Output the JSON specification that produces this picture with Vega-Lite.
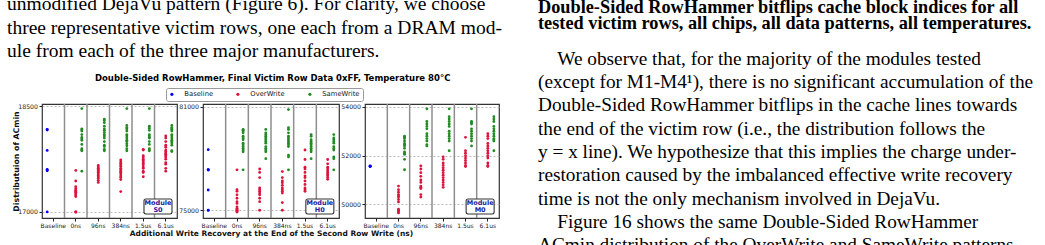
{
"$schema":"https://vega.github.io/schema/vega-lite/v6.json",
"padding":{"left":7,"top":-7,"right":0,"bottom":0},
"background":"white",
"config":{
 "view":{"stroke":"#333","strokeWidth":1.2},
 "font":"DejaVu Sans",
 "axis":{"labelFont":"DejaVu Sans","labelColor":"#222","tickColor":"#222","tickSize":3,"domain":false,"titleFont":"DejaVu Sans","titleFontWeight":"bold","titleColor":"#111"},
 "axisX":{"labelAlign":"center","labelBaseline":"top","labelAngle":0},
 "legend":{"orient":"none","legendX":124,"legendY":88,"direction":"horizontal","labelFont":"DejaVu Sans","labelFontSize":6.8,"labelColor":"#222","symbolSize":10,"symbolType":"circle","symbolStrokeWidth":0,"columnPadding":21,"labelOffset":9,"padding":2.5,"strokeColor":"#999","cornerRadius":2,"fillColor":"white"}
},
"datasets":{
"left":[{"i":1,"t":"unmodified DejaVu pattern (Figure 6). For clarity, we choose"},{"i":2,"t":"three representative victim rows, one each from a DRAM mod-"},{"i":3,"t":"ule from each of the three major manufacturers."}],
"rbold":[{"i":1,"t":"Double-Sided RowHammer bitflips cache block indices for all"},{"i":2,"t":"tested victim rows, all chips, all data patterns, all temperatures."}],
"rreg":[{"i":1,"t":"\u200b\u2003We observe that, for the majority of the modules tested"},{"i":2,"t":"(except for M1-M4¹), there is no significant accumulation of the"},{"i":3,"t":"Double-Sided RowHammer bitflips in the cache lines towards"},{"i":4,"t":"the end of the victim row (i.e., the distribution follows the"},{"i":5,"t":"y = x line). We hypothesize that this implies the charge under-"},{"i":6,"t":"restoration caused by the imbalanced effective write recovery"},{"i":7,"t":"time is not the only mechanism involved in DejaVu."},{"i":8,"t":"\u200b\u2003Figure 16 shows the same Double-Sided RowHammer"},{"i":9,"t":"ACmin distribution of the OverWrite and SameWrite patterns"}],
"cats":[{"c":"0ns"},{"c":"96ns"},{"c":"384ns"},{"c":"1.5us"},{"c":"6.1us"}],
"pts":[
{"m":"S0","c":"Baseline","s":"Baseline","v":18175},{"m":"S0","c":"Baseline","s":"Baseline","v":18165},{"m":"S0","c":"Baseline","s":"Baseline","v":17875},{"m":"S0","c":"Baseline","s":"Baseline","v":17605},{"m":"S0","c":"Baseline","s":"Baseline","v":17595},{"m":"S0","c":"Baseline","s":"Baseline","v":17585},{"m":"S0","c":"Baseline","s":"Baseline","v":17000},
{"m":"S0","c":"0ns","s":"OverWrite","v":17590},{"m":"S0","c":"0ns","s":"OverWrite","v":17440},{"m":"S0","c":"0ns","s":"OverWrite","v":17360},{"m":"S0","c":"0ns","s":"OverWrite","v":17330},{"m":"S0","c":"0ns","s":"OverWrite","v":17310},{"m":"S0","c":"0ns","s":"OverWrite","v":17290},{"m":"S0","c":"0ns","s":"OverWrite","v":17280},{"m":"S0","c":"0ns","s":"OverWrite","v":17260},{"m":"S0","c":"0ns","s":"OverWrite","v":17240},{"m":"S0","c":"0ns","s":"OverWrite","v":17220},{"m":"S0","c":"0ns","s":"OverWrite","v":17005},{"m":"S0","c":"0ns","s":"OverWrite","v":16995},
{"m":"S0","c":"0ns","s":"SameWrite","v":18470},{"m":"S0","c":"0ns","s":"SameWrite","v":18180},{"m":"S0","c":"0ns","s":"SameWrite","v":18170},{"m":"S0","c":"0ns","s":"SameWrite","v":18150},{"m":"S0","c":"0ns","s":"SameWrite","v":18100},{"m":"S0","c":"0ns","s":"SameWrite","v":18060},{"m":"S0","c":"0ns","s":"SameWrite","v":18040},{"m":"S0","c":"0ns","s":"SameWrite","v":18020},{"m":"S0","c":"0ns","s":"SameWrite","v":17960},{"m":"S0","c":"0ns","s":"SameWrite","v":17900},{"m":"S0","c":"0ns","s":"SameWrite","v":17880},{"m":"S0","c":"0ns","s":"SameWrite","v":17870},{"m":"S0","c":"0ns","s":"SameWrite","v":17580},
{"m":"S0","c":"96ns","s":"OverWrite","v":17660},{"m":"S0","c":"96ns","s":"OverWrite","v":17640},{"m":"S0","c":"96ns","s":"OverWrite","v":17620},{"m":"S0","c":"96ns","s":"OverWrite","v":17600},{"m":"S0","c":"96ns","s":"OverWrite","v":17590},{"m":"S0","c":"96ns","s":"OverWrite","v":17570},{"m":"S0","c":"96ns","s":"OverWrite","v":17560},{"m":"S0","c":"96ns","s":"OverWrite","v":17540},{"m":"S0","c":"96ns","s":"OverWrite","v":17520},{"m":"S0","c":"96ns","s":"OverWrite","v":17500},{"m":"S0","c":"96ns","s":"OverWrite","v":17480},{"m":"S0","c":"96ns","s":"OverWrite","v":17450},{"m":"S0","c":"96ns","s":"OverWrite","v":17420},
{"m":"S0","c":"96ns","s":"SameWrite","v":18320},{"m":"S0","c":"96ns","s":"SameWrite","v":18300},{"m":"S0","c":"96ns","s":"SameWrite","v":18270},{"m":"S0","c":"96ns","s":"SameWrite","v":18220},{"m":"S0","c":"96ns","s":"SameWrite","v":18180},{"m":"S0","c":"96ns","s":"SameWrite","v":18160},{"m":"S0","c":"96ns","s":"SameWrite","v":18130},{"m":"S0","c":"96ns","s":"SameWrite","v":18100},{"m":"S0","c":"96ns","s":"SameWrite","v":18080},{"m":"S0","c":"96ns","s":"SameWrite","v":18050},{"m":"S0","c":"96ns","s":"SameWrite","v":18000},{"m":"S0","c":"96ns","s":"SameWrite","v":17950},{"m":"S0","c":"96ns","s":"SameWrite","v":17930},{"m":"S0","c":"96ns","s":"SameWrite","v":17890},{"m":"S0","c":"96ns","s":"SameWrite","v":17870},
{"m":"S0","c":"384ns","s":"OverWrite","v":17740},{"m":"S0","c":"384ns","s":"OverWrite","v":17710},{"m":"S0","c":"384ns","s":"OverWrite","v":17690},{"m":"S0","c":"384ns","s":"OverWrite","v":17670},{"m":"S0","c":"384ns","s":"OverWrite","v":17650},{"m":"S0","c":"384ns","s":"OverWrite","v":17620},{"m":"S0","c":"384ns","s":"OverWrite","v":17600},{"m":"S0","c":"384ns","s":"OverWrite","v":17580},{"m":"S0","c":"384ns","s":"OverWrite","v":17560},{"m":"S0","c":"384ns","s":"OverWrite","v":17540},{"m":"S0","c":"384ns","s":"OverWrite","v":17510},{"m":"S0","c":"384ns","s":"OverWrite","v":17490},{"m":"S0","c":"384ns","s":"OverWrite","v":17460},{"m":"S0","c":"384ns","s":"OverWrite","v":17290},
{"m":"S0","c":"384ns","s":"SameWrite","v":18470},{"m":"S0","c":"384ns","s":"SameWrite","v":18230},{"m":"S0","c":"384ns","s":"SameWrite","v":18200},{"m":"S0","c":"384ns","s":"SameWrite","v":18180},{"m":"S0","c":"384ns","s":"SameWrite","v":18150},{"m":"S0","c":"384ns","s":"SameWrite","v":18100},{"m":"S0","c":"384ns","s":"SameWrite","v":18080},{"m":"S0","c":"384ns","s":"SameWrite","v":18050},{"m":"S0","c":"384ns","s":"SameWrite","v":18020},{"m":"S0","c":"384ns","s":"SameWrite","v":18000},{"m":"S0","c":"384ns","s":"SameWrite","v":17970},{"m":"S0","c":"384ns","s":"SameWrite","v":17940},{"m":"S0","c":"384ns","s":"SameWrite","v":17900},{"m":"S0","c":"384ns","s":"SameWrite","v":17870},
{"m":"S0","c":"1.5us","s":"OverWrite","v":17890},{"m":"S0","c":"1.5us","s":"OverWrite","v":17880},{"m":"S0","c":"1.5us","s":"OverWrite","v":17800},{"m":"S0","c":"1.5us","s":"OverWrite","v":17780},{"m":"S0","c":"1.5us","s":"OverWrite","v":17750},{"m":"S0","c":"1.5us","s":"OverWrite","v":17730},{"m":"S0","c":"1.5us","s":"OverWrite","v":17710},{"m":"S0","c":"1.5us","s":"OverWrite","v":17690},{"m":"S0","c":"1.5us","s":"OverWrite","v":17670},{"m":"S0","c":"1.5us","s":"OverWrite","v":17640},{"m":"S0","c":"1.5us","s":"OverWrite","v":17620},{"m":"S0","c":"1.5us","s":"OverWrite","v":17580},{"m":"S0","c":"1.5us","s":"OverWrite","v":17560},{"m":"S0","c":"1.5us","s":"OverWrite","v":17500},
{"m":"S0","c":"1.5us","s":"SameWrite","v":18470},{"m":"S0","c":"1.5us","s":"SameWrite","v":18220},{"m":"S0","c":"1.5us","s":"SameWrite","v":18190},{"m":"S0","c":"1.5us","s":"SameWrite","v":18160},{"m":"S0","c":"1.5us","s":"SameWrite","v":18100},{"m":"S0","c":"1.5us","s":"SameWrite","v":18080},{"m":"S0","c":"1.5us","s":"SameWrite","v":18060},{"m":"S0","c":"1.5us","s":"SameWrite","v":18050},{"m":"S0","c":"1.5us","s":"SameWrite","v":18000},{"m":"S0","c":"1.5us","s":"SameWrite","v":17960},{"m":"S0","c":"1.5us","s":"SameWrite","v":17900},{"m":"S0","c":"1.5us","s":"SameWrite","v":17880},{"m":"S0","c":"1.5us","s":"SameWrite","v":17870},
{"m":"S0","c":"6.1us","s":"OverWrite","v":18080},{"m":"S0","c":"6.1us","s":"OverWrite","v":18050},{"m":"S0","c":"6.1us","s":"OverWrite","v":18000},{"m":"S0","c":"6.1us","s":"OverWrite","v":17950},{"m":"S0","c":"6.1us","s":"OverWrite","v":17920},{"m":"S0","c":"6.1us","s":"OverWrite","v":17880},{"m":"S0","c":"6.1us","s":"OverWrite","v":17860},{"m":"S0","c":"6.1us","s":"OverWrite","v":17840},{"m":"S0","c":"6.1us","s":"OverWrite","v":17820},{"m":"S0","c":"6.1us","s":"OverWrite","v":17800},{"m":"S0","c":"6.1us","s":"OverWrite","v":17780},{"m":"S0","c":"6.1us","s":"OverWrite","v":17750},{"m":"S0","c":"6.1us","s":"OverWrite","v":17700},{"m":"S0","c":"6.1us","s":"OverWrite","v":17680},{"m":"S0","c":"6.1us","s":"OverWrite","v":17620},{"m":"S0","c":"6.1us","s":"OverWrite","v":17580},
{"m":"S0","c":"6.1us","s":"SameWrite","v":18230},{"m":"S0","c":"6.1us","s":"SameWrite","v":18200},{"m":"S0","c":"6.1us","s":"SameWrite","v":18180},{"m":"S0","c":"6.1us","s":"SameWrite","v":18170},{"m":"S0","c":"6.1us","s":"SameWrite","v":18150},{"m":"S0","c":"6.1us","s":"SameWrite","v":18100},{"m":"S0","c":"6.1us","s":"SameWrite","v":18080},{"m":"S0","c":"6.1us","s":"SameWrite","v":18050},{"m":"S0","c":"6.1us","s":"SameWrite","v":18020},{"m":"S0","c":"6.1us","s":"SameWrite","v":18000},{"m":"S0","c":"6.1us","s":"SameWrite","v":17980},{"m":"S0","c":"6.1us","s":"SameWrite","v":17950},{"m":"S0","c":"6.1us","s":"SameWrite","v":17870},{"m":"S0","c":"6.1us","s":"SameWrite","v":17860},
{"m":"H0","c":"Baseline","s":"Baseline","v":78520},{"m":"H0","c":"Baseline","s":"Baseline","v":77360},{"m":"H0","c":"Baseline","s":"Baseline","v":77350},{"m":"H0","c":"Baseline","s":"Baseline","v":77340},{"m":"H0","c":"Baseline","s":"Baseline","v":76180},{"m":"H0","c":"Baseline","s":"Baseline","v":75010},{"m":"H0","c":"Baseline","s":"Baseline","v":74990},
{"m":"H0","c":"0ns","s":"OverWrite","v":77350},{"m":"H0","c":"0ns","s":"OverWrite","v":76200},{"m":"H0","c":"0ns","s":"OverWrite","v":76100},{"m":"H0","c":"0ns","s":"OverWrite","v":75900},{"m":"H0","c":"0ns","s":"OverWrite","v":75700},{"m":"H0","c":"0ns","s":"OverWrite","v":75500},{"m":"H0","c":"0ns","s":"OverWrite","v":75400},{"m":"H0","c":"0ns","s":"OverWrite","v":75200},{"m":"H0","c":"0ns","s":"OverWrite","v":75100},{"m":"H0","c":"0ns","s":"OverWrite","v":75050},{"m":"H0","c":"0ns","s":"OverWrite","v":75000},{"m":"H0","c":"0ns","s":"OverWrite","v":74950},{"m":"H0","c":"0ns","s":"OverWrite","v":74900},
{"m":"H0","c":"0ns","s":"SameWrite","v":79700},{"m":"H0","c":"0ns","s":"SameWrite","v":79650},{"m":"H0","c":"0ns","s":"SameWrite","v":79600},{"m":"H0","c":"0ns","s":"SameWrite","v":79500},{"m":"H0","c":"0ns","s":"SameWrite","v":79300},{"m":"H0","c":"0ns","s":"SameWrite","v":79200},{"m":"H0","c":"0ns","s":"SameWrite","v":79100},{"m":"H0","c":"0ns","s":"SameWrite","v":78900},{"m":"H0","c":"0ns","s":"SameWrite","v":78800},{"m":"H0","c":"0ns","s":"SameWrite","v":78700},{"m":"H0","c":"0ns","s":"SameWrite","v":78600},{"m":"H0","c":"0ns","s":"SameWrite","v":78500},{"m":"H0","c":"0ns","s":"SameWrite","v":78400},{"m":"H0","c":"0ns","s":"SameWrite","v":77350},
{"m":"H0","c":"96ns","s":"OverWrite","v":77400},{"m":"H0","c":"96ns","s":"OverWrite","v":77200},{"m":"H0","c":"96ns","s":"OverWrite","v":76900},{"m":"H0","c":"96ns","s":"OverWrite","v":76300},{"m":"H0","c":"96ns","s":"OverWrite","v":76200},{"m":"H0","c":"96ns","s":"OverWrite","v":76100},{"m":"H0","c":"96ns","s":"OverWrite","v":76000},{"m":"H0","c":"96ns","s":"OverWrite","v":75900},{"m":"H0","c":"96ns","s":"OverWrite","v":75700},{"m":"H0","c":"96ns","s":"OverWrite","v":75500},{"m":"H0","c":"96ns","s":"OverWrite","v":75000},
{"m":"H0","c":"96ns","s":"SameWrite","v":79700},{"m":"H0","c":"96ns","s":"SameWrite","v":79500},{"m":"H0","c":"96ns","s":"SameWrite","v":79400},{"m":"H0","c":"96ns","s":"SameWrite","v":79300},{"m":"H0","c":"96ns","s":"SameWrite","v":79200},{"m":"H0","c":"96ns","s":"SameWrite","v":79100},{"m":"H0","c":"96ns","s":"SameWrite","v":79000},{"m":"H0","c":"96ns","s":"SameWrite","v":78900},{"m":"H0","c":"96ns","s":"SameWrite","v":78700},{"m":"H0","c":"96ns","s":"SameWrite","v":78600},{"m":"H0","c":"96ns","s":"SameWrite","v":78500},{"m":"H0","c":"96ns","s":"SameWrite","v":78400},{"m":"H0","c":"96ns","s":"SameWrite","v":78000},
{"m":"H0","c":"384ns","s":"OverWrite","v":77250},{"m":"H0","c":"384ns","s":"OverWrite","v":76900},{"m":"H0","c":"384ns","s":"OverWrite","v":76700},{"m":"H0","c":"384ns","s":"OverWrite","v":76600},{"m":"H0","c":"384ns","s":"OverWrite","v":76450},{"m":"H0","c":"384ns","s":"OverWrite","v":76300},{"m":"H0","c":"384ns","s":"OverWrite","v":76200},{"m":"H0","c":"384ns","s":"OverWrite","v":76100},{"m":"H0","c":"384ns","s":"OverWrite","v":76000},{"m":"H0","c":"384ns","s":"OverWrite","v":75450},{"m":"H0","c":"384ns","s":"OverWrite","v":75000},
{"m":"H0","c":"384ns","s":"SameWrite","v":80850},{"m":"H0","c":"384ns","s":"SameWrite","v":79800},{"m":"H0","c":"384ns","s":"SameWrite","v":79700},{"m":"H0","c":"384ns","s":"SameWrite","v":79500},{"m":"H0","c":"384ns","s":"SameWrite","v":79300},{"m":"H0","c":"384ns","s":"SameWrite","v":79200},{"m":"H0","c":"384ns","s":"SameWrite","v":79100},{"m":"H0","c":"384ns","s":"SameWrite","v":79000},{"m":"H0","c":"384ns","s":"SameWrite","v":78900},{"m":"H0","c":"384ns","s":"SameWrite","v":78800},{"m":"H0","c":"384ns","s":"SameWrite","v":78700},{"m":"H0","c":"384ns","s":"SameWrite","v":78200},{"m":"H0","c":"384ns","s":"SameWrite","v":78100},{"m":"H0","c":"384ns","s":"SameWrite","v":77350},
{"m":"H0","c":"1.5us","s":"OverWrite","v":78500},{"m":"H0","c":"1.5us","s":"OverWrite","v":77950},{"m":"H0","c":"1.5us","s":"OverWrite","v":77500},{"m":"H0","c":"1.5us","s":"OverWrite","v":77400},{"m":"H0","c":"1.5us","s":"OverWrite","v":77200},{"m":"H0","c":"1.5us","s":"OverWrite","v":77000},{"m":"H0","c":"1.5us","s":"OverWrite","v":76900},{"m":"H0","c":"1.5us","s":"OverWrite","v":76700},{"m":"H0","c":"1.5us","s":"OverWrite","v":76500},{"m":"H0","c":"1.5us","s":"OverWrite","v":76300},{"m":"H0","c":"1.5us","s":"OverWrite","v":76200},{"m":"H0","c":"1.5us","s":"OverWrite","v":76100},
{"m":"H0","c":"1.5us","s":"SameWrite","v":79400},{"m":"H0","c":"1.5us","s":"SameWrite","v":79300},{"m":"H0","c":"1.5us","s":"SameWrite","v":79100},{"m":"H0","c":"1.5us","s":"SameWrite","v":79000},{"m":"H0","c":"1.5us","s":"SameWrite","v":78900},{"m":"H0","c":"1.5us","s":"SameWrite","v":78800},{"m":"H0","c":"1.5us","s":"SameWrite","v":78700},{"m":"H0","c":"1.5us","s":"SameWrite","v":78600},{"m":"H0","c":"1.5us","s":"SameWrite","v":78500},{"m":"H0","c":"1.5us","s":"SameWrite","v":78400},{"m":"H0","c":"1.5us","s":"SameWrite","v":78000},
{"m":"H0","c":"6.1us","s":"OverWrite","v":77950},{"m":"H0","c":"6.1us","s":"OverWrite","v":77700},{"m":"H0","c":"6.1us","s":"OverWrite","v":77500},{"m":"H0","c":"6.1us","s":"OverWrite","v":77400},{"m":"H0","c":"6.1us","s":"OverWrite","v":77300},{"m":"H0","c":"6.1us","s":"OverWrite","v":77200},{"m":"H0","c":"6.1us","s":"OverWrite","v":77100},{"m":"H0","c":"6.1us","s":"OverWrite","v":77000},{"m":"H0","c":"6.1us","s":"OverWrite","v":76900},{"m":"H0","c":"6.1us","s":"OverWrite","v":76800},
{"m":"H0","c":"6.1us","s":"SameWrite","v":79400},{"m":"H0","c":"6.1us","s":"SameWrite","v":79200},{"m":"H0","c":"6.1us","s":"SameWrite","v":79100},{"m":"H0","c":"6.1us","s":"SameWrite","v":79000},{"m":"H0","c":"6.1us","s":"SameWrite","v":78900},{"m":"H0","c":"6.1us","s":"SameWrite","v":78700},{"m":"H0","c":"6.1us","s":"SameWrite","v":78600},{"m":"H0","c":"6.1us","s":"SameWrite","v":78500},{"m":"H0","c":"6.1us","s":"SameWrite","v":78100},{"m":"H0","c":"6.1us","s":"SameWrite","v":78000},{"m":"H0","c":"6.1us","s":"SameWrite","v":77350},
{"m":"M0","c":"Baseline","s":"Baseline","v":51580},{"m":"M0","c":"Baseline","s":"Baseline","v":51570},{"m":"M0","c":"Baseline","s":"Baseline","v":51560},{"m":"M0","c":"Baseline","s":"Baseline","v":51550},
{"m":"M0","c":"0ns","s":"OverWrite","v":50750},{"m":"M0","c":"0ns","s":"OverWrite","v":50600},{"m":"M0","c":"0ns","s":"OverWrite","v":50500},{"m":"M0","c":"0ns","s":"OverWrite","v":50400},{"m":"M0","c":"0ns","s":"OverWrite","v":50350},{"m":"M0","c":"0ns","s":"OverWrite","v":50300},{"m":"M0","c":"0ns","s":"OverWrite","v":50200},{"m":"M0","c":"0ns","s":"OverWrite","v":50100},{"m":"M0","c":"0ns","s":"OverWrite","v":49800},{"m":"M0","c":"0ns","s":"OverWrite","v":49750},{"m":"M0","c":"0ns","s":"OverWrite","v":49700},{"m":"M0","c":"0ns","s":"OverWrite","v":49650},
{"m":"M0","c":"0ns","s":"SameWrite","v":52800},{"m":"M0","c":"0ns","s":"SameWrite","v":52750},{"m":"M0","c":"0ns","s":"SameWrite","v":52700},{"m":"M0","c":"0ns","s":"SameWrite","v":52600},{"m":"M0","c":"0ns","s":"SameWrite","v":52500},{"m":"M0","c":"0ns","s":"SameWrite","v":52450},{"m":"M0","c":"0ns","s":"SameWrite","v":52400},{"m":"M0","c":"0ns","s":"SameWrite","v":52300},{"m":"M0","c":"0ns","s":"SameWrite","v":52150},{"m":"M0","c":"0ns","s":"SameWrite","v":52100},{"m":"M0","c":"0ns","s":"SameWrite","v":52050},{"m":"M0","c":"0ns","s":"SameWrite","v":51850},{"m":"M0","c":"0ns","s":"SameWrite","v":51420},
{"m":"M0","c":"96ns","s":"OverWrite","v":51580},{"m":"M0","c":"96ns","s":"OverWrite","v":51450},{"m":"M0","c":"96ns","s":"OverWrite","v":51300},{"m":"M0","c":"96ns","s":"OverWrite","v":51150},{"m":"M0","c":"96ns","s":"OverWrite","v":51000},{"m":"M0","c":"96ns","s":"OverWrite","v":50900},{"m":"M0","c":"96ns","s":"OverWrite","v":50750},{"m":"M0","c":"96ns","s":"OverWrite","v":50700},{"m":"M0","c":"96ns","s":"OverWrite","v":50650},{"m":"M0","c":"96ns","s":"OverWrite","v":50400},{"m":"M0","c":"96ns","s":"OverWrite","v":50300},
{"m":"M0","c":"96ns","s":"SameWrite","v":53920},{"m":"M0","c":"96ns","s":"SameWrite","v":53400},{"m":"M0","c":"96ns","s":"SameWrite","v":53300},{"m":"M0","c":"96ns","s":"SameWrite","v":53200},{"m":"M0","c":"96ns","s":"SameWrite","v":53100},{"m":"M0","c":"96ns","s":"SameWrite","v":52900},{"m":"M0","c":"96ns","s":"SameWrite","v":52800},{"m":"M0","c":"96ns","s":"SameWrite","v":52700},{"m":"M0","c":"96ns","s":"SameWrite","v":52600},{"m":"M0","c":"96ns","s":"SameWrite","v":52450},{"m":"M0","c":"96ns","s":"SameWrite","v":52400},
{"m":"M0","c":"384ns","s":"OverWrite","v":51950},{"m":"M0","c":"384ns","s":"OverWrite","v":51850},{"m":"M0","c":"384ns","s":"OverWrite","v":51700},{"m":"M0","c":"384ns","s":"OverWrite","v":51600},{"m":"M0","c":"384ns","s":"OverWrite","v":51500},{"m":"M0","c":"384ns","s":"OverWrite","v":51400},{"m":"M0","c":"384ns","s":"OverWrite","v":51300},{"m":"M0","c":"384ns","s":"OverWrite","v":51200},{"m":"M0","c":"384ns","s":"OverWrite","v":51100},{"m":"M0","c":"384ns","s":"OverWrite","v":51000},{"m":"M0","c":"384ns","s":"OverWrite","v":50900},{"m":"M0","c":"384ns","s":"OverWrite","v":50800},{"m":"M0","c":"384ns","s":"OverWrite","v":50700},
{"m":"M0","c":"384ns","s":"SameWrite","v":53920},{"m":"M0","c":"384ns","s":"SameWrite","v":53600},{"m":"M0","c":"384ns","s":"SameWrite","v":53500},{"m":"M0","c":"384ns","s":"SameWrite","v":53400},{"m":"M0","c":"384ns","s":"SameWrite","v":53300},{"m":"M0","c":"384ns","s":"SameWrite","v":53200},{"m":"M0","c":"384ns","s":"SameWrite","v":53000},{"m":"M0","c":"384ns","s":"SameWrite","v":52900},{"m":"M0","c":"384ns","s":"SameWrite","v":52800},{"m":"M0","c":"384ns","s":"SameWrite","v":52700},{"m":"M0","c":"384ns","s":"SameWrite","v":52600},{"m":"M0","c":"384ns","s":"SameWrite","v":52200},
{"m":"M0","c":"1.5us","s":"OverWrite","v":52750},{"m":"M0","c":"1.5us","s":"OverWrite","v":52200},{"m":"M0","c":"1.5us","s":"OverWrite","v":52100},{"m":"M0","c":"1.5us","s":"OverWrite","v":52000},{"m":"M0","c":"1.5us","s":"OverWrite","v":51900},{"m":"M0","c":"1.5us","s":"OverWrite","v":51800},{"m":"M0","c":"1.5us","s":"OverWrite","v":51700},{"m":"M0","c":"1.5us","s":"OverWrite","v":51600},{"m":"M0","c":"1.5us","s":"OverWrite","v":51550},
{"m":"M0","c":"1.5us","s":"SameWrite","v":53920},{"m":"M0","c":"1.5us","s":"SameWrite","v":53400},{"m":"M0","c":"1.5us","s":"SameWrite","v":53350},{"m":"M0","c":"1.5us","s":"SameWrite","v":53300},{"m":"M0","c":"1.5us","s":"SameWrite","v":53100},{"m":"M0","c":"1.5us","s":"SameWrite","v":53000},{"m":"M0","c":"1.5us","s":"SameWrite","v":52900},{"m":"M0","c":"1.5us","s":"SameWrite","v":52800},{"m":"M0","c":"1.5us","s":"SameWrite","v":52700},{"m":"M0","c":"1.5us","s":"SameWrite","v":52600},{"m":"M0","c":"1.5us","s":"SameWrite","v":52400},
{"m":"M0","c":"6.1us","s":"OverWrite","v":52900},{"m":"M0","c":"6.1us","s":"OverWrite","v":52800},{"m":"M0","c":"6.1us","s":"OverWrite","v":52700},{"m":"M0","c":"6.1us","s":"OverWrite","v":52500},{"m":"M0","c":"6.1us","s":"OverWrite","v":52400},{"m":"M0","c":"6.1us","s":"OverWrite","v":52300},{"m":"M0","c":"6.1us","s":"OverWrite","v":52200},{"m":"M0","c":"6.1us","s":"OverWrite","v":52100},{"m":"M0","c":"6.1us","s":"OverWrite","v":52000},{"m":"M0","c":"6.1us","s":"OverWrite","v":51900},{"m":"M0","c":"6.1us","s":"OverWrite","v":51700},{"m":"M0","c":"6.1us","s":"OverWrite","v":51600},{"m":"M0","c":"6.1us","s":"OverWrite","v":51550},
{"m":"M0","c":"6.1us","s":"SameWrite","v":53600},{"m":"M0","c":"6.1us","s":"SameWrite","v":53500},{"m":"M0","c":"6.1us","s":"SameWrite","v":53400},{"m":"M0","c":"6.1us","s":"SameWrite","v":53200},{"m":"M0","c":"6.1us","s":"SameWrite","v":53100},{"m":"M0","c":"6.1us","s":"SameWrite","v":53000},{"m":"M0","c":"6.1us","s":"SameWrite","v":52900},{"m":"M0","c":"6.1us","s":"SameWrite","v":52800},{"m":"M0","c":"6.1us","s":"SameWrite","v":52700},{"m":"M0","c":"6.1us","s":"SameWrite","v":52650},{"m":"M0","c":"6.1us","s":"SameWrite","v":52600},{"m":"M0","c":"6.1us","s":"SameWrite","v":52200}
]},
"hconcat":[
{
 "spacing":7,
 "vconcat":[
 {
  "width":457,"height":67,
  "view":{"stroke":null},
  "data":{"name":"left"},
  "mark":{"type":"text","font":"Liberation Serif","fontSize":19.5,"align":"left","baseline":"alphabetic","color":"#000","dx":-35},
  "encoding":{
   "x":{"datum":0,"type":"quantitative","scale":{"domain":[0,1]},"axis":null},
   "y":{"field":"i","type":"ordinal","axis":null,"scale":{"type":"point","padding":0.4255}},
   "text":{"field":"t","type":"nominal"}
  }
 },
 {
  "title":{"text":"Double-Sided RowHammer, Final Victim Row Data 0xFF, Temperature 80°C","font":"DejaVu Sans","fontSize":8.5,"fontWeight":"bold","anchor":"middle","color":"#000","offset":20,"dx":17},
  "spacing":26,
  "bounds":"flush",
  "hconcat":[
   {
    "width":135,"height":114,
    "layer":[
     {"data":{"name":"cats"},"mark":{"type":"rule","color":"#8e8e8e","strokeWidth":1.5},
      "encoding":{"x":{"field":"c","type":"nominal","bandPosition":0,"scale":{"type":"band","domain":["Baseline","0ns","96ns","384ns","1.5us","6.1us"],"paddingInner":0,"paddingOuter":0}}}},
     {"data":{"name":"pts"},"transform":[{"filter":"datum.m==='S0' && datum.s==='Baseline'"}],
      "mark":{"type":"point","filled":true,"size":8,"opacity":1},
      "encoding":{
       "x":{"field":"c","type":"nominal","bandPosition":0.23,"scale":{"type":"band","domain":["Baseline","0ns","96ns","384ns","1.5us","6.1us"],"paddingInner":0,"paddingOuter":0}},
       "y":{"field":"v","type":"quantitative"},
       "color":{"field":"s","type":"nominal","scale":{"domain":["Baseline","OverWrite","SameWrite"],"range":["#0000ff","#dc143c","#228b22"]},"legend":{"title":null}}}},
     {"data":{"name":"pts"},"transform":[{"filter":"datum.m==='S0' && datum.s==='OverWrite'"}],
      "mark":{"type":"point","filled":true,"size":8,"opacity":1},
      "encoding":{
       "x":{"field":"c","type":"nominal","bandPosition":0.5,"scale":{"type":"band","domain":["Baseline","0ns","96ns","384ns","1.5us","6.1us"],"paddingInner":0,"paddingOuter":0},"axis":{"title":null,"labelAngle":0,"labelAlign":"center","grid":false,"labelFontSize":6,"labelPadding":1}},
       "y":{"field":"v","type":"quantitative","scale":{"domain":[16914,18535],"nice":false,"zero":false},"axis":{"values":[17000,17250,17500,17750,18000,18250,18500],"format":"d","grid":true,"gridDash":[2,2],"gridColor":"#aaa","gridWidth":0.8,"labelFontSize":6.2,"labelPadding":1.5,"title":"Distributuion of ACmin","titleFontSize":7.8,"titlePadding":-2.5}},
       "color":{"field":"s","type":"nominal","scale":{"domain":["Baseline","OverWrite","SameWrite"],"range":["#0000ff","#dc143c","#228b22"]},"legend":{"title":null}}}},
     {"data":{"name":"pts"},"transform":[{"filter":"datum.m==='S0' && datum.s==='SameWrite'"}],
      "mark":{"type":"point","filled":true,"size":8,"opacity":1},
      "encoding":{
       "x":{"field":"c","type":"nominal","bandPosition":0.77,"scale":{"type":"band","domain":["Baseline","0ns","96ns","384ns","1.5us","6.1us"],"paddingInner":0,"paddingOuter":0}},
       "y":{"field":"v","type":"quantitative"},
       "color":{"field":"s","type":"nominal","scale":{"domain":["Baseline","OverWrite","SameWrite"],"range":["#0000ff","#dc143c","#228b22"]},"legend":{"title":null}}}},
     {"data":{"values":[{}]},"mark":{"type":"point","shape":"M-0.86,-0.536 L0.86,-0.536 Q1,-0.536 1,-0.396 L1,0.396 Q1,0.536 0.86,0.536 L-0.86,0.536 Q-1,0.536 -1,0.396 L-1,-0.396 Q-1,-0.536 -0.86,-0.536 Z","size":784,"filled":true,"fill":"white","stroke":"#333","strokeWidth":1.1,"opacity":1},
      "encoding":{"x":{"datum":"6.1us","type":"nominal","bandPosition":0.155,"scale":{"type":"band","domain":["Baseline","0ns","96ns","384ns","1.5us","6.1us"],"paddingInner":0,"paddingOuter":0}},"y":{"datum":17078,"type":"quantitative"}}},
     {"data":{"values":[{}]},"mark":{"type":"text","text":["Module","S0"],"font":"DejaVu Sans","fontWeight":"bold","fontSize":6.5,"lineHeight":6.8,"color":"#20209a","baseline":"middle","align":"center","dy":-3.4},
      "encoding":{"x":{"datum":"6.1us","type":"nominal","bandPosition":0.155,"scale":{"type":"band","domain":["Baseline","0ns","96ns","384ns","1.5us","6.1us"],"paddingInner":0,"paddingOuter":0}},"y":{"datum":17078,"type":"quantitative"}}}
    ]
   },
   {
    "width":136,"height":114,
    "layer":[
     {"data":{"name":"cats"},"mark":{"type":"rule","color":"#8e8e8e","strokeWidth":1.5},
      "encoding":{"x":{"field":"c","type":"nominal","bandPosition":0,"scale":{"type":"band","domain":["Baseline","0ns","96ns","384ns","1.5us","6.1us"],"paddingInner":0,"paddingOuter":0}}}},
     {"data":{"name":"pts"},"transform":[{"filter":"datum.m==='H0' && datum.s==='Baseline'"}],
      "mark":{"type":"point","filled":true,"size":8,"opacity":1},
      "encoding":{
       "x":{"field":"c","type":"nominal","bandPosition":0.23,"scale":{"type":"band","domain":["Baseline","0ns","96ns","384ns","1.5us","6.1us"],"paddingInner":0,"paddingOuter":0}},
       "y":{"field":"v","type":"quantitative"},
       "color":{"field":"s","type":"nominal","scale":{"domain":["Baseline","OverWrite","SameWrite"],"range":["#0000ff","#dc143c","#228b22"]},"legend":{"title":null}}}},
     {"data":{"name":"pts"},"transform":[{"filter":"datum.m==='H0' && datum.s==='OverWrite'"}],
      "mark":{"type":"point","filled":true,"size":8,"opacity":1},
      "encoding":{
       "x":{"field":"c","type":"nominal","bandPosition":0.5,"scale":{"type":"band","domain":["Baseline","0ns","96ns","384ns","1.5us","6.1us"],"paddingInner":0,"paddingOuter":0},"axis":{"title":"Additional Write Recovery at the End of the Second Row Write (ns)","titleFontSize":7.5,"titlePadding":1,"labelAngle":0,"labelAlign":"center","grid":false,"labelFontSize":6,"labelPadding":1}},
       "y":{"field":"v","type":"quantitative","scale":{"domain":[74552,81174],"nice":false,"zero":false},"axis":{"values":[75000,76000,77000,78000,79000,80000,81000],"format":"d","grid":true,"gridDash":[2,2],"gridColor":"#aaa","gridWidth":0.8,"labelFontSize":6.2,"labelPadding":1.5,"title":null}},
       "color":{"field":"s","type":"nominal","scale":{"domain":["Baseline","OverWrite","SameWrite"],"range":["#0000ff","#dc143c","#228b22"]},"legend":{"title":null}}}},
     {"data":{"name":"pts"},"transform":[{"filter":"datum.m==='H0' && datum.s==='SameWrite'"}],
      "mark":{"type":"point","filled":true,"size":8,"opacity":1},
      "encoding":{
       "x":{"field":"c","type":"nominal","bandPosition":0.77,"scale":{"type":"band","domain":["Baseline","0ns","96ns","384ns","1.5us","6.1us"],"paddingInner":0,"paddingOuter":0}},
       "y":{"field":"v","type":"quantitative"},
       "color":{"field":"s","type":"nominal","scale":{"domain":["Baseline","OverWrite","SameWrite"],"range":["#0000ff","#dc143c","#228b22"]},"legend":{"title":null}}}},
     {"data":{"values":[{}]},"mark":{"type":"point","shape":"M-0.86,-0.536 L0.86,-0.536 Q1,-0.536 1,-0.396 L1,0.396 Q1,0.536 0.86,0.536 L-0.86,0.536 Q-1,0.536 -1,0.396 L-1,-0.396 Q-1,-0.536 -0.86,-0.536 Z","size":784,"filled":true,"fill":"white","stroke":"#333","strokeWidth":1.1,"opacity":1},
      "encoding":{"x":{"datum":"6.1us","type":"nominal","bandPosition":0.155,"scale":{"type":"band","domain":["Baseline","0ns","96ns","384ns","1.5us","6.1us"],"paddingInner":0,"paddingOuter":0}},"y":{"datum":75220,"type":"quantitative"}}},
     {"data":{"values":[{}]},"mark":{"type":"text","text":["Module","H0"],"font":"DejaVu Sans","fontWeight":"bold","fontSize":6.5,"lineHeight":6.8,"color":"#20209a","baseline":"middle","align":"center","dy":-3.4},
      "encoding":{"x":{"datum":"6.1us","type":"nominal","bandPosition":0.155,"scale":{"type":"band","domain":["Baseline","0ns","96ns","384ns","1.5us","6.1us"],"paddingInner":0,"paddingOuter":0}},"y":{"datum":75220,"type":"quantitative"}}}
    ]
   },
   {
    "width":134,"height":114,
    "layer":[
     {"data":{"name":"cats"},"mark":{"type":"rule","color":"#8e8e8e","strokeWidth":1.5},
      "encoding":{"x":{"field":"c","type":"nominal","bandPosition":0,"scale":{"type":"band","domain":["Baseline","0ns","96ns","384ns","1.5us","6.1us"],"paddingInner":0,"paddingOuter":0}}}},
     {"data":{"name":"pts"},"transform":[{"filter":"datum.m==='M0' && datum.s==='Baseline'"}],
      "mark":{"type":"point","filled":true,"size":8,"opacity":1},
      "encoding":{
       "x":{"field":"c","type":"nominal","bandPosition":0.23,"scale":{"type":"band","domain":["Baseline","0ns","96ns","384ns","1.5us","6.1us"],"paddingInner":0,"paddingOuter":0}},
       "y":{"field":"v","type":"quantitative"},
       "color":{"field":"s","type":"nominal","scale":{"domain":["Baseline","OverWrite","SameWrite"],"range":["#0000ff","#dc143c","#228b22"]},"legend":{"title":null}}}},
     {"data":{"name":"pts"},"transform":[{"filter":"datum.m==='M0' && datum.s==='OverWrite'"}],
      "mark":{"type":"point","filled":true,"size":8,"opacity":1},
      "encoding":{
       "x":{"field":"c","type":"nominal","bandPosition":0.5,"scale":{"type":"band","domain":["Baseline","0ns","96ns","384ns","1.5us","6.1us"],"paddingInner":0,"paddingOuter":0},"axis":{"title":null,"labelAngle":0,"labelAlign":"center","grid":false,"labelFontSize":6,"labelPadding":1}},
       "y":{"field":"v","type":"quantitative","scale":{"domain":[49440,54120],"nice":false,"zero":false},"axis":{"values":[50000,51000,52000,53000,54000],"format":"d","grid":true,"gridDash":[2,2],"gridColor":"#aaa","gridWidth":0.8,"labelFontSize":6.2,"labelPadding":1.5,"title":null}},
       "color":{"field":"s","type":"nominal","scale":{"domain":["Baseline","OverWrite","SameWrite"],"range":["#0000ff","#dc143c","#228b22"]},"legend":{"title":null}}}},
     {"data":{"name":"pts"},"transform":[{"filter":"datum.m==='M0' && datum.s==='SameWrite'"}],
      "mark":{"type":"point","filled":true,"size":8,"opacity":1},
      "encoding":{
       "x":{"field":"c","type":"nominal","bandPosition":0.77,"scale":{"type":"band","domain":["Baseline","0ns","96ns","384ns","1.5us","6.1us"],"paddingInner":0,"paddingOuter":0}},
       "y":{"field":"v","type":"quantitative"},
       "color":{"field":"s","type":"nominal","scale":{"domain":["Baseline","OverWrite","SameWrite"],"range":["#0000ff","#dc143c","#228b22"]},"legend":{"title":null}}}},
     {"data":{"values":[{}]},"mark":{"type":"point","shape":"M-0.86,-0.536 L0.86,-0.536 Q1,-0.536 1,-0.396 L1,0.396 Q1,0.536 0.86,0.536 L-0.86,0.536 Q-1,0.536 -1,0.396 L-1,-0.396 Q-1,-0.536 -0.86,-0.536 Z","size":784,"filled":true,"fill":"white","stroke":"#333","strokeWidth":1.1,"opacity":1},
      "encoding":{"x":{"datum":"6.1us","type":"nominal","bandPosition":0.155,"scale":{"type":"band","domain":["Baseline","0ns","96ns","384ns","1.5us","6.1us"],"paddingInner":0,"paddingOuter":0}},"y":{"datum":49912,"type":"quantitative"}}},
     {"data":{"values":[{}]},"mark":{"type":"text","text":["Module","M0"],"font":"DejaVu Sans","fontWeight":"bold","fontSize":6.5,"lineHeight":6.8,"color":"#20209a","baseline":"middle","align":"center","dy":-3.4},
      "encoding":{"x":{"datum":"6.1us","type":"nominal","bandPosition":0.155,"scale":{"type":"band","domain":["Baseline","0ns","96ns","384ns","1.5us","6.1us"],"paddingInner":0,"paddingOuter":0}},"y":{"datum":49912,"type":"quantitative"}}}
    ]
   }
  ]
 }
 ]
},
{
 "spacing":0,
 "vconcat":[
 {
  "width":497,"height":42,
  "view":{"stroke":null},
  "data":{"name":"rbold"},
  "mark":{"type":"text","font":"Liberation Serif","fontSize":18.3,"fontWeight":"bold","align":"left","baseline":"alphabetic","color":"#000"},
  "encoding":{
   "x":{"datum":0,"type":"quantitative","scale":{"domain":[0,1]},"axis":null},
   "y":{"field":"i","type":"ordinal","axis":null,"scale":{"type":"point","padding":0.765}},
   "text":{"field":"t","type":"nominal"}
  }
 },
 {
  "width":497,"height":232,
  "view":{"stroke":null},
  "data":{"name":"rreg"},
  "mark":{"type":"text","font":"Liberation Serif","fontSize":19.3,"align":"left","baseline":"alphabetic","color":"#000"},
  "encoding":{
   "x":{"datum":0,"type":"quantitative","scale":{"domain":[0,1]},"axis":null},
   "y":{"field":"i","type":"ordinal","axis":null,"scale":{"type":"point","padding":0.987}},
   "text":{"field":"t","type":"nominal"}
  }
 }
 ]
}
],
"spacing":36
}
